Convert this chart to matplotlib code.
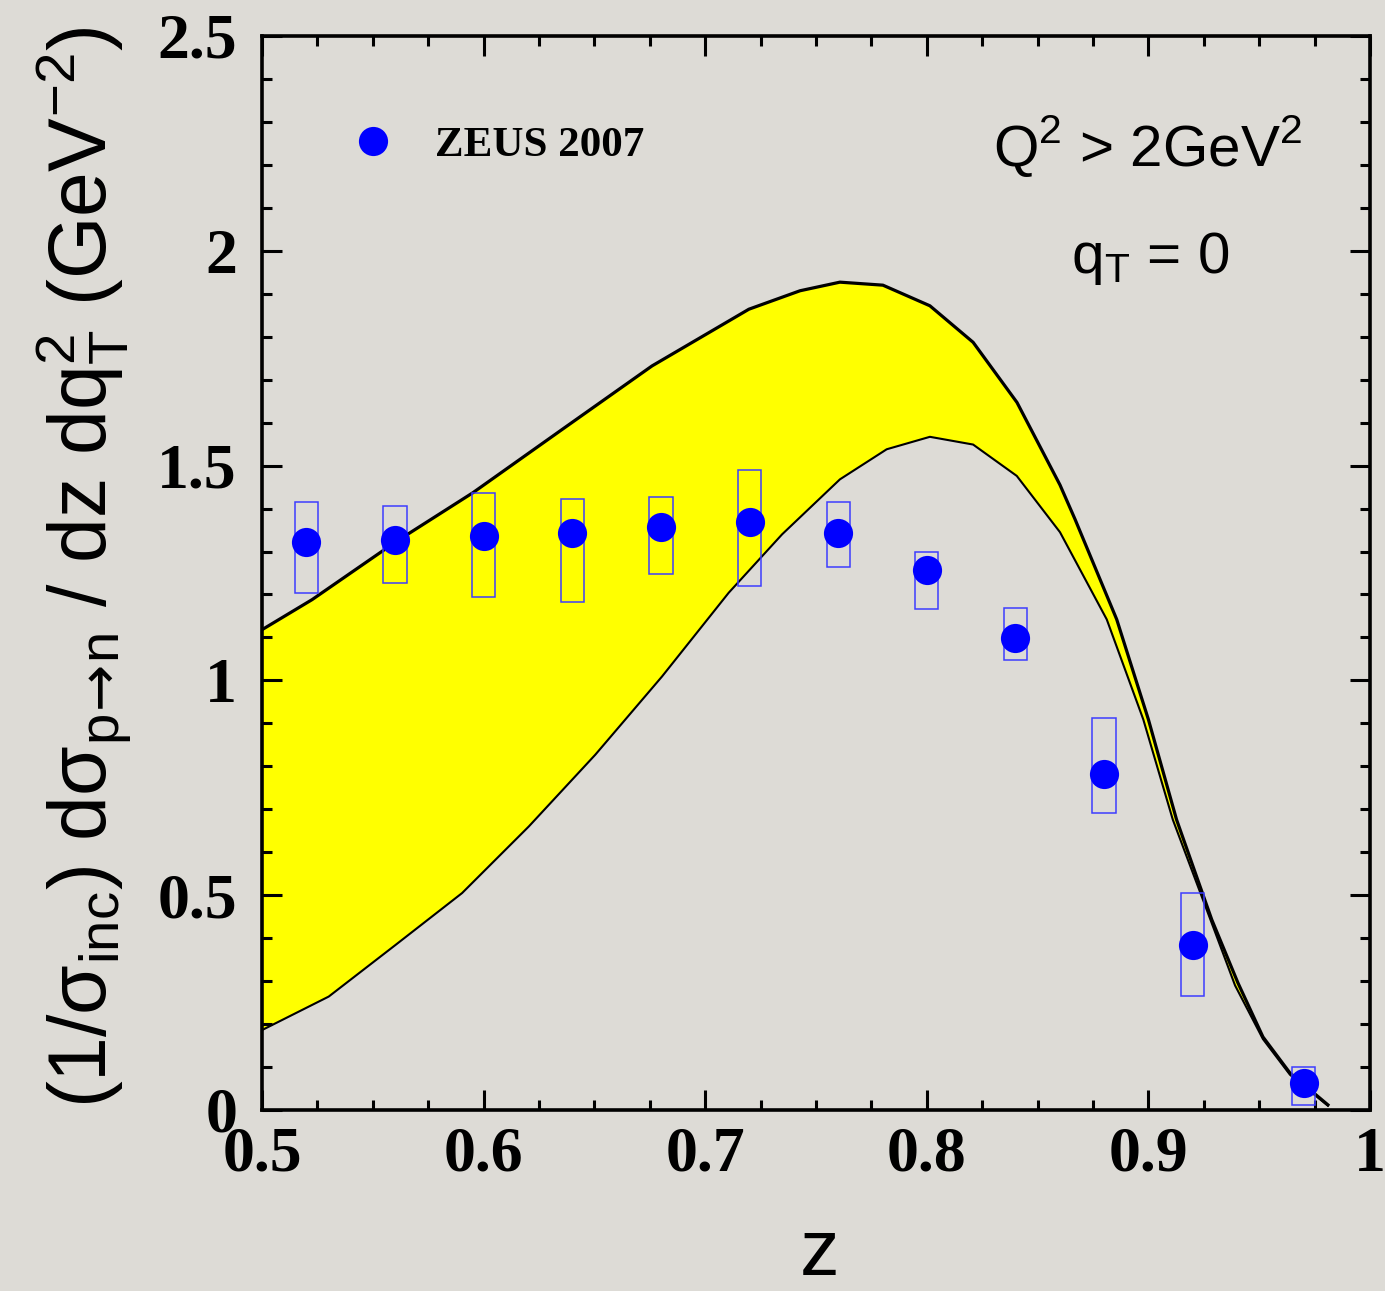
import matplotlib
matplotlib.use("Agg")
import matplotlib.pyplot as plt
from matplotlib.ticker import MultipleLocator, FuncFormatter
import numpy as np

# ZEUS 2007 leading-neutron data: z, value, systematic box limits
z_data = [0.52, 0.56, 0.60, 0.64, 0.68, 0.72, 0.76, 0.80, 0.84, 0.88, 0.92, 0.97]
y_data = [1.323, 1.326, 1.335, 1.344, 1.358, 1.369, 1.344, 1.258, 1.098, 0.781, 0.384, 0.062]
box_lo = [1.203, 1.226, 1.195, 1.183, 1.247, 1.219, 1.264, 1.167, 1.048, 0.691, 0.266, 0.012]
box_hi = [1.415, 1.407, 1.437, 1.423, 1.428, 1.490, 1.415, 1.298, 1.168, 0.912, 0.506, 0.101]

# theory band: upper and lower edges
band_up_z = [0.500, 0.5226, 0.5602, 0.5952, 0.6354, 0.676, 0.7197, 0.7428, 0.7608,
             0.7802, 0.8014, 0.8209, 0.8407, 0.8601, 0.8669, 0.8857, 0.900, 0.9127,
             0.9286, 0.9404, 0.9517, 0.9639, 0.981]
band_up = [1.118, 1.188, 1.322, 1.437, 1.584, 1.732, 1.864, 1.907, 1.927,
           1.920, 1.872, 1.787, 1.647, 1.455, 1.375, 1.142, 0.909, 0.676,
           0.443, 0.296, 0.170, 0.086, 0.012]
band_lo_z = [0.500, 0.5301, 0.5602, 0.5903, 0.6204, 0.6504, 0.6805, 0.7106, 0.7347,
             0.7608, 0.7819, 0.8014, 0.8209, 0.8406, 0.8601, 0.8812, 0.8977, 0.911,
             0.928, 0.9391, 0.9517, 0.9639, 0.981]
band_lo = [0.186, 0.264, 0.384, 0.505, 0.660, 0.827, 1.009, 1.204, 1.340,
           1.468, 1.538, 1.567, 1.549, 1.476, 1.345, 1.142, 0.909, 0.676,
           0.443, 0.290, 0.165, 0.082, 0.010]

x_ticks = [0.5, 0.6, 0.7, 0.8, 0.9, 1.0]
y_ticks = [0, 0.5, 1.0, 1.5, 2.0, 2.5]

BG = "#dddbd6"
W, H = 1385, 1291

fig = plt.figure(figsize=(W / 100, H / 100), dpi=100, facecolor=BG)
ax = fig.add_axes([262 / W, 1 - 1110 / H, (1370 - 262) / W, (1110 - 36) / H])
ax.set_facecolor(BG)

# yellow band with black outline
ax.fill(np.r_[band_up_z, band_lo_z[::-1]], np.r_[band_up, band_lo[::-1]],
        color="#ffff00", lw=0, zorder=1)
ax.plot(band_up_z, band_up, color="black", lw=2.3, zorder=2, solid_joinstyle="round")
ax.plot(band_lo_z, band_lo, color="black", lw=1.5, zorder=2, solid_joinstyle="round")

# systematic boxes and data points
ax.bar(z_data, np.subtract(box_hi, box_lo), bottom=box_lo, width=0.0105,
       fill=False, edgecolor="#3d3dff", linewidth=1.1, zorder=3)
pts, = ax.plot(z_data, y_data, "o", color="#0000ff", ms=21, mec="none",
               zorder=4, label="ZEUS 2007")

ax.set_xlim(0.5, 1.0)
ax.set_ylim(0, 2.5)
ax.set_xticks(x_ticks)
ax.set_yticks(y_ticks)
ax.xaxis.set_minor_locator(MultipleLocator(0.025))
ax.yaxis.set_minor_locator(MultipleLocator(0.1))
fmt = FuncFormatter(lambda v, p: "%g" % v)
ax.xaxis.set_major_formatter(fmt)
ax.yaxis.set_major_formatter(fmt)

ax.tick_params(which="both", direction="in", top=True, right=True,
               width=2.2, color="black")
ax.tick_params(which="major", length=14.5)
ax.tick_params(which="minor", length=7)
ax.tick_params(axis="x", which="major", pad=12)
ax.tick_params(axis="y", which="major", pad=18)
for lab in ax.get_xticklabels() + ax.get_yticklabels():
    lab.set_fontfamily("Liberation Serif")
    lab.set_fontweight("bold")
    lab.set_fontsize(46)
for sp in ax.spines.values():
    sp.set_linewidth(2.6)

leg = ax.legend(handles=[pts], loc="center left", bbox_to_anchor=(0.0803, 0.8985),
                frameon=False, handlelength=1.0, handletextpad=0.95, borderpad=0,
                borderaxespad=0, numpoints=1,
                prop={"family": "Liberation Serif", "weight": "bold", "size": 31})

sans = "Liberation Sans"
fig.text(993 / W, 1 - 167 / H, r"Q$^\mathregular{2}$ > 2GeV$^\mathregular{2}$",
         fontsize=42, family=sans, ha="left", va="baseline")
fig.text(1071 / W, 1 - 273 / H, r"q$_\mathregular{T}$ = 0",
         fontsize=42, family=sans, ha="left", va="baseline")

fig.text(84 / W, 1 - 567 / H,
         r"(1/σ$_\mathregular{inc}$) dσ$_{\mathregular{p}\!\rightarrow\!\mathregular{n}}$ / dz "
         r"dq$_\mathregular{T}^\mathregular{2}$ (GeV$^\mathregular{-2}$)",
         fontsize=58, family=[sans, "DejaVu Sans"], rotation=90, ha="center", va="center")
fig.text(820 / W, 1 - 1275 / H, "z", fontsize=57, family=sans,
         ha="center", va="baseline")

fig.savefig("out.png", dpi=100, facecolor=BG)
